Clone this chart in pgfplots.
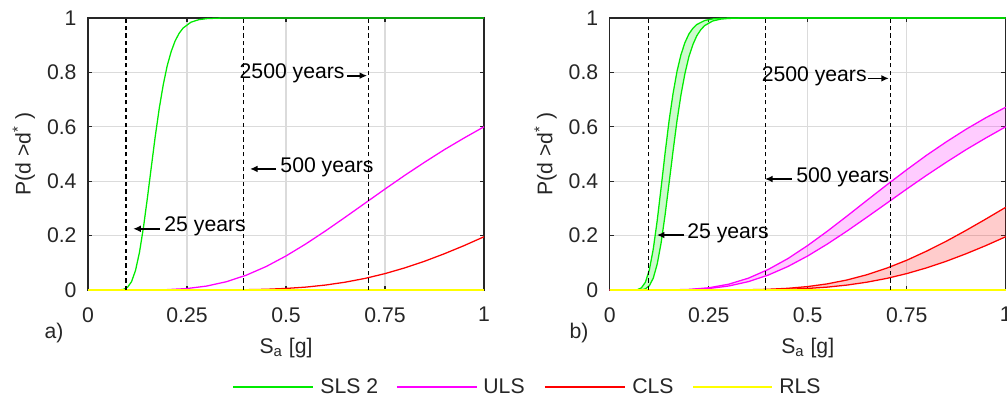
\documentclass[border=0pt]{standalone}
\usepackage{fontspec}
\setmainfont{Liberation Sans}
\usepackage{pgfplots}
\pgfplotsset{compat=1.18}
\usepackage{pgfplotstable}
\usepgfplotslibrary{fillbetween}
\usetikzlibrary{arrows.meta}

\definecolor{colG}{RGB}{0,235,0}
\definecolor{colM}{RGB}{255,0,255}
\definecolor{colR}{RGB}{255,0,0}
\definecolor{colY}{RGB}{255,255,0}
\definecolor{axc}{RGB}{38,38,38}

% SLS 2, left panel
\pgfplotstableread{
x y
0 0
0.05 0
0.07 0.00003
0.08 0.0004
0.09 0.0025
0.10 0.0102
0.11 0.0308
0.12 0.0720
0.13 0.1385
0.14 0.2296
0.15 0.3383
0.16 0.4534
0.17 0.5670
0.18 0.6685
0.19 0.7545
0.20 0.8243
0.21 0.8764
0.22 0.9157
0.23 0.9433
0.24 0.9629
0.26 0.9846
0.28 0.9939
0.30 0.9977
0.33 0.9995
0.36 1
1 1
}\gL
% SLS 2, right panel lower
\pgfplotstableread{
x y
0 0
0.05 0
0.07 0.0001
0.08 0.0007
0.09 0.0041
0.10 0.0155
0.11 0.0435
0.12 0.0956
0.13 0.1749
0.14 0.2773
0.15 0.3936
0.16 0.5110
0.17 0.6225
0.18 0.7180
0.19 0.7960
0.20 0.8577
0.21 0.9020
0.22 0.9347
0.23 0.9569
0.24 0.9723
0.26 0.9889
0.28 0.9958
0.30 0.9984
0.33 0.9997
0.36 1
1 1
}\gRa
% SLS 2, right panel upper
\pgfplotstableread{
x y
0 0
0.04 0
0.06 0.0001
0.07 0.0013
0.08 0.0077
0.09 0.0281
0.10 0.0733
0.11 0.1504
0.12 0.2557
0.13 0.3787
0.14 0.5050
0.15 0.6229
0.16 0.7227
0.17 0.8042
0.18 0.8653
0.19 0.9097
0.20 0.9412
0.21 0.9620
0.22 0.9760
0.24 0.9908
0.26 0.9966
0.28 0.9988
0.30 0.9996
0.33 1
1 1
}\gRb
% ULS lower
\pgfplotstableread{
x y
0 0
0.10 0
0.15 0.0002
0.20 0.0013
0.25 0.0053
0.30 0.0145
0.35 0.0306
0.40 0.0546
0.45 0.0863
0.50 0.1251
0.55 0.1693
0.60 0.2174
0.65 0.2680
0.70 0.3195
0.75 0.3711
0.80 0.4215
0.85 0.4697
0.90 0.5160
0.95 0.5590
1.00 0.6000
}\mL
% ULS upper
\pgfplotstableread{
x y
0 0
0.10 0
0.15 0.0003
0.20 0.0021
0.25 0.0081
0.30 0.0211
0.35 0.0433
0.40 0.0752
0.45 0.1155
0.50 0.1636
0.55 0.2166
0.60 0.2726
0.65 0.3300
0.70 0.3867
0.75 0.4420
0.80 0.4952
0.85 0.5446
0.90 0.5910
0.95 0.6334
1.00 0.6720
}\mU
% CLS lower
\pgfplotstableread{
x y
0 0
0.30 0
0.35 0.0003
0.40 0.0011
0.45 0.0026
0.50 0.0057
0.55 0.0106
0.60 0.0182
0.65 0.0288
0.70 0.0427
0.75 0.0602
0.80 0.0813
0.85 0.1057
0.90 0.1333
0.95 0.1633
1.00 0.1957
}\rL
% CLS upper
\pgfplotstableread{
x y
0 0
0.30 0
0.35 0.0009
0.40 0.0026
0.45 0.0062
0.50 0.0126
0.55 0.0226
0.60 0.0371
0.65 0.0563
0.70 0.0805
0.75 0.1093
0.80 0.1427
0.85 0.1793
0.90 0.2192
0.95 0.2610
1.00 0.3040
}\rU

\pgfplotsset{
  myax/.style={
    scale only axis,
    width=186.79pt, height=128.30pt,
    xmin=0, xmax=1, ymin=0, ymax=1,
    xtick={0,0.25,0.5,0.75,1},
    xticklabels={0,0.25,0.5,0.75,1},
    ytick={0,0.2,0.4,0.6,0.8,1},
    yticklabels={0,0.2,0.4,0.6,0.8,1},
    tick align=inside,
    major tick length=2pt,
    tick style={axc, line width=0.5pt},
    axis line style={axc, line width=0.5pt},
    grid=major,
    major grid style={black!14, line width=0.5pt},
    xticklabel style={yshift=-4.6pt, text=axc},
    yticklabel style={xshift=-1.9pt, text=axc},
    xlabel={S\textsubscript{a} [g]},
    xlabel style={at={(axis description cs:0.5,-0.213)}, anchor=center, text=axc},
    ylabel={P(d >d\textsuperscript{*} )},
    ylabel style={at={(axis description cs:-0.162,0.5)}, anchor=center, text=axc},
    clip=false,
    every axis plot/.append style={line width=0.6pt},
  },
  dl/.style={black, line width=0.5pt, dash pattern=on 2pt off 1.5pt, forget plot},
}
\tikzset{ann/.style={-{Latex[length=3.6pt,width=3.2pt]}, line width=0.8pt, black},
  legl/.style={line width=0.9pt},
  legt/.style={anchor=west, inner sep=0pt, yshift=0.7pt, text=axc}}

\begin{document}
\begin{tikzpicture}
\begin{axis}[myax]
\addplot[draw=colG] table[x=x,y=y] {\gL};
\addplot[draw=colM] table[x=x,y=y] {\mL};
\addplot[draw=colR] table[x=x,y=y] {\rL};
\addplot[draw=colY] coordinates {(0,0) (1,0)};
\addplot[dl] coordinates {(0.096,0) (0.096,1)};
\addplot[dl] coordinates {(0.392,0) (0.392,1)};
\addplot[dl] coordinates {(0.708,0) (0.708,1)};
\draw[ann] (axis cs:0.182,0.225) -- (axis cs:0.114,0.225);
\node[anchor=base west, inner sep=0, yshift=-1.5pt] at (axis cs:0.192,0.225) {25 years};
\draw[ann] (axis cs:0.475,0.445) -- (axis cs:0.409,0.445);
\node[anchor=base west, inner sep=0, yshift=-1.5pt] at (axis cs:0.485,0.445) {500 years};
\draw[ann] (axis cs:0.654,0.788) -- (axis cs:0.705,0.788);
\node[anchor=base east, inner sep=0, yshift=-1.5pt] at (axis cs:0.649,0.788) {2500 years};
\node[anchor=center, text=axc] at (axis description cs:-0.086,-0.158) {a)};
% legend
\draw[legl, colG] (axis description cs:0.3662,-0.358) -- (axis description cs:0.5682,-0.358);
\node[legt] at (axis description cs:0.5859,-0.358) {SLS 2};
\draw[legl, colM] (axis description cs:0.7803,-0.358) -- (axis description cs:0.9823,-0.358);
\node[legt] at (axis description cs:0.9975,-0.358) {ULS};
\draw[legl, colR] (axis description cs:1.1540,-0.358) -- (axis description cs:1.3561,-0.358);
\node[legt] at (axis description cs:1.3737,-0.358) {CLS};
\draw[legl, colY] (axis description cs:1.5278,-0.358) -- (axis description cs:1.7273,-0.358);
\node[legt] at (axis description cs:1.7449,-0.358) {RLS};
\end{axis}

\begin{axis}[myax, at={(246.09pt,0pt)}]
\addplot[draw=none, name path=gA, forget plot] table[x=x,y=y] {\gRa};
\addplot[draw=none, name path=gB, forget plot] table[x=x,y=y] {\gRb};
\addplot[draw=none, name path=mA, forget plot] table[x=x,y=y] {\mL};
\addplot[draw=none, name path=mB, forget plot] table[x=x,y=y] {\mU};
\addplot[draw=none, name path=rA, forget plot] table[x=x,y=y] {\rL};
\addplot[draw=none, name path=rB, forget plot] table[x=x,y=y] {\rU};
\addplot[fill=colG, fill opacity=0.2, draw=none, forget plot] fill between[of=gA and gB];
\addplot[fill=colM, fill opacity=0.2, draw=none, forget plot] fill between[of=mA and mB];
\addplot[fill=colR, fill opacity=0.2, draw=none, forget plot] fill between[of=rA and rB];
\addplot[colG] table[x=x,y=y] {\gRa};
\addplot[colG] table[x=x,y=y] {\gRb};
\addplot[colM] table[x=x,y=y] {\mL};
\addplot[colM] table[x=x,y=y] {\mU};
\addplot[colR] table[x=x,y=y] {\rL};
\addplot[colR] table[x=x,y=y] {\rU};
\addplot[colY] coordinates {(0,0) (1,0)};
\addplot[dl] coordinates {(0.097,0) (0.097,1)};
\addplot[dl] coordinates {(0.394,0) (0.394,1)};
\addplot[dl] coordinates {(0.709,0) (0.709,1)};
\draw[ann] (axis cs:0.188,0.202) -- (axis cs:0.119,0.202);
\node[anchor=base west, inner sep=0, yshift=-1.5pt] at (axis cs:0.195,0.202) {25 years};
\draw[ann] (axis cs:0.460,0.408) -- (axis cs:0.392,0.408);
\node[anchor=base west, inner sep=0, yshift=-1.5pt] at (axis cs:0.470,0.408) {500 years};
\draw[ann] (axis cs:0.652,0.778) -- (axis cs:0.705,0.778);
\node[anchor=base east, inner sep=0, yshift=-1.5pt] at (axis cs:0.650,0.778) {2500 years};
\node[anchor=center, text=axc] at (axis description cs:-0.0775,-0.158) {b)};
\end{axis}
\pgfresetboundingbox
\path[use as bounding box] (-41.51pt,-52.36pt) rectangle (433.49pt,136.79pt);
\end{tikzpicture}
\end{document}
